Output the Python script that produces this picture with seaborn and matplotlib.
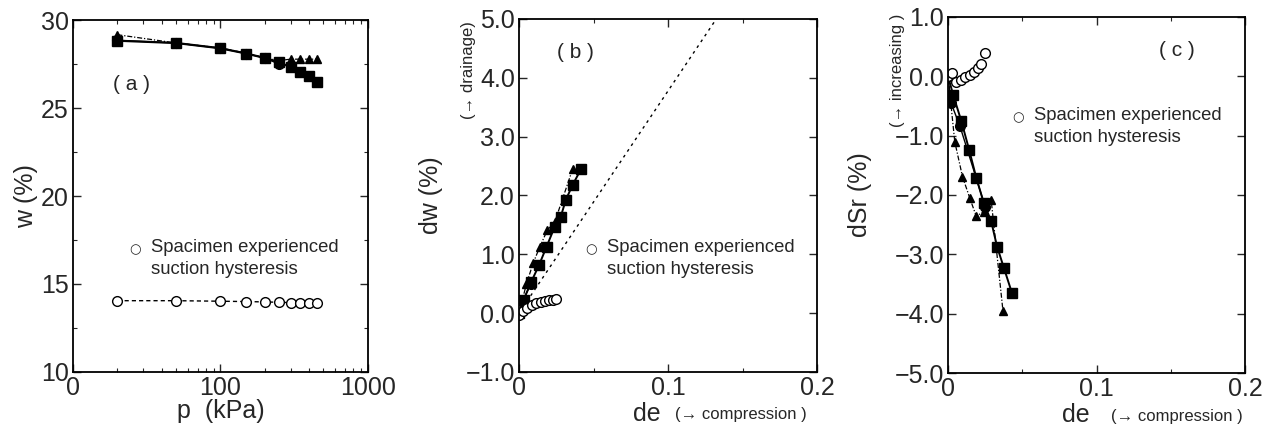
import numpy as np
import pandas as pd
import matplotlib
matplotlib.use('Agg')
import matplotlib.pyplot as plt
import seaborn as sns

# ---- panel (a): w vs p ----
p_kpa = [20, 50, 100, 150, 200, 250, 300, 350, 400, 450]
w_square = [28.83, 28.7, 28.4, 28.1, 27.85, 27.6, 27.33, 27.05, 26.8, 26.5]
w_triangle = [29.17, 28.7, 28.42, 28.12, 27.85, 27.7, 27.78, 27.78, 27.78, 27.78]
p_circle = [20, 50, 100, 150, 200, 250]
w_circle = [28.85, 28.7, 28.4, 28.1, 27.85, 27.5]
w_hyst = [14.05, 14.05, 14.02, 14.0, 13.98, 13.96, 13.94, 13.92, 13.9, 13.9]

# ---- panel (b): dw vs de ----
de_sq_b = [0.0, 0.003, 0.008, 0.0135, 0.0185, 0.024, 0.028, 0.0315, 0.036, 0.0417]
dw_sq_b = [0.0, 0.22, 0.52, 0.82, 1.13, 1.47, 1.64, 1.93, 2.18, 2.45]
de_tri_b = [0.0, 0.005, 0.0095, 0.014, 0.019, 0.024, 0.036]
dw_tri_b = [0.0, 0.5, 0.85, 1.13, 1.41, 1.55, 2.45]
de_ci_b = [0.0, 0.0027, 0.008]
dw_ci_b = [0.0, 0.22, 0.5]
de_hyst = [0.0, 0.0027, 0.0055, 0.0085, 0.0115, 0.0145, 0.0175, 0.02, 0.0225, 0.025]
dw_hyst = [-0.03, 0.03, 0.09, 0.14, 0.17, 0.19, 0.21, 0.22, 0.23, 0.24]
de_sat = [0.0, 0.2]
dw_sat = [0.0, 7.55]

# ---- panel (c): dSr vs de ----
de_sq_c = [0.0, 0.0034, 0.009, 0.0142, 0.019, 0.024, 0.029, 0.033, 0.0376, 0.043]
dsr_sq_c = [0.0, -0.31, -0.76, -1.24, -1.71, -2.13, -2.44, -2.87, -3.23, -3.65]
de_tri_c = [0.0, 0.0045, 0.0097, 0.0146, 0.019, 0.024, 0.029, 0.037]
dsr_tri_c = [0.0, -1.1, -1.69, -2.05, -2.36, -2.28, -2.08, -3.96]
de_ci_c = [0.0, 0.002, 0.008, 0.025]
dsr_ci_c = [0.0, -0.45, -0.84, -2.2]
dsr_hyst = [0.0, 0.05, -0.09, -0.06, -0.02, 0.02, 0.08, 0.14, 0.2, 0.4]

sns.set_style('ticks')
plt.rcParams['font.family'] = ['Liberation Sans', 'DejaVu Sans']

fig = plt.figure(figsize=(12.7, 4.28), dpi=100)
ax_a = fig.add_axes([0.0575, 0.131, 0.232, 0.822])
ax_b = fig.add_axes([0.4087, 0.131, 0.2346, 0.825])
ax_c = fig.add_axes([0.7465, 0.1285, 0.2339, 0.832])

dash = (0, (3, 2.2))
dashdot = (0, (4, 1.5, 1, 1.5))
k = 'black'
TICK = 18
LAB = 18
NOTE = 12


def draw(ax, x, y, marker, ls, lw=1.2, ms=7, mfc=k):
    sns.lineplot(x=x, y=y, ax=ax, sort=False, estimator=None, color=k,
                 linestyle=ls, linewidth=lw, marker=marker, markersize=ms,
                 markerfacecolor=mfc, markeredgecolor=k, markeredgewidth=1.0)


def style(ax):
    for s in ax.spines.values():
        s.set_linewidth(1.3)
        s.set_color(k)
    ax.tick_params(axis='both', which='major', direction='in', length=6,
                   width=1, labelsize=TICK, top=True, right=True, pad=3)
    ax.tick_params(axis='both', which='minor', direction='in', length=3,
                   width=0.8, top=True, right=True)


def legend_text(ax, x, y):
    # open-circle key followed by the two-line note
    ax.text(x, y, '\u25cb', transform=ax.transAxes, fontsize=9.5,
            ha='center', va='center', family=['DejaVu Sans'])
    ax.text(x + 0.055, y + 0.032, 'Spacimen experienced\nsuction hysteresis',
            transform=ax.transAxes, fontsize=13.3, ha='left', va='top',
            linespacing=1.4)


# ---- (a) ----
draw(ax_a, p_kpa, w_square, 's', '-', lw=1.6)
draw(ax_a, p_kpa, w_triangle, '^', dashdot, lw=0.9, ms=6)
draw(ax_a, p_circle, w_circle, 'o', '-', lw=1.0, ms=7)
draw(ax_a, p_kpa, w_hyst, 'o', dash, lw=1.0, ms=7, mfc='white')
ax_a.set_xscale('log')
ax_a.set_xlim(10, 1000)
ax_a.set_ylim(10, 30)
ax_a.set_xticks([10, 100, 1000])
ax_a.set_xticklabels(['0', '100', '1000'])
ax_a.set_yticks([10, 15, 20, 25, 30])
ax_a.set_yticks([12.5, 17.5, 22.5, 27.5], minor=True)
ax_a.set_xlabel('p  (kPa)', fontsize=LAB, labelpad=-1)
ax_a.set_ylabel('w (%)', fontsize=LAB, labelpad=2)
style(ax_a)
ax_a.text(0.2, 0.8, '( a )', transform=ax_a.transAxes, fontsize=15, ha='center')
legend_text(ax_a, 0.21, 0.347)

# ---- (b) ----
draw(ax_b, de_sat, dw_sat, None, (0, (2, 3)), lw=1.0)
draw(ax_b, de_sq_b, dw_sq_b, 's', '-', lw=1.4)
draw(ax_b, de_tri_b, dw_tri_b, '^', dashdot, lw=0.9, ms=6)
draw(ax_b, de_ci_b, dw_ci_b, 'o', '-', lw=1.0)
draw(ax_b, de_hyst, dw_hyst, 'o', dash, lw=0.8, ms=7, mfc='white')
ax_b.set_xlim(0, 0.2)
ax_b.set_ylim(-1.0, 5.0)
ax_b.set_xticks([0, 0.1, 0.2])
ax_b.set_xticklabels(['0', '0.1', '0.2'])
ax_b.set_xticks([0.05, 0.15], minor=True)
ax_b.set_yticks(np.arange(-1.0, 5.01, 1.0))
ax_b.set_yticklabels(['\u22121.0', '0.0', '1.0', '2.0', '3.0', '4.0', '5.0'])
style(ax_b)
ax_b.set_xlabel('')
ax_b.set_ylabel('dw (%)', fontsize=LAB, labelpad=16)
ax_b.text(0.43, -0.085, 'de', transform=ax_b.transAxes, fontsize=LAB,
          ha='center', va='top')
ax_b.text(0.745, -0.1, '(\u2192 compression )', transform=ax_b.transAxes,
          fontsize=NOTE, ha='center', va='top')
ax_b.text(-0.17, 0.855, '(\u2192 drainage)', transform=ax_b.transAxes,
          fontsize=NOTE, ha='center', va='center', rotation=90)
ax_b.text(0.19, 0.89, '( b )', transform=ax_b.transAxes, fontsize=15, ha='center')
legend_text(ax_b, 0.24, 0.345)

# ---- (c) ----
draw(ax_c, de_sq_c, dsr_sq_c, 's', '-', lw=1.4)
draw(ax_c, de_tri_c, dsr_tri_c, '^', dashdot, lw=0.9, ms=6)
draw(ax_c, de_ci_c, dsr_ci_c, 'o', '-', lw=1.0)
draw(ax_c, de_hyst, dsr_hyst, 'o', dash, lw=0.8, ms=7, mfc='white')
ax_c.set_xlim(0, 0.2)
ax_c.set_ylim(-5.0, 1.0)
ax_c.set_xticks([0, 0.1, 0.2])
ax_c.set_xticklabels(['0', '0.1', '0.2'])
ax_c.set_xticks([0.05, 0.15], minor=True)
ax_c.set_yticks(np.arange(-5.0, 1.01, 1.0))
ax_c.set_yticklabels(['\u22125.0', '\u22124.0', '\u22123.0', '\u22122.0',
                      '\u22121.0', '0.0', '1.0'])
style(ax_c)
ax_c.set_xlabel('')
ax_c.set_ylabel('dSr (%)', fontsize=LAB, labelpad=16)
ax_c.text(0.43, -0.085, 'de', transform=ax_c.transAxes, fontsize=LAB,
          ha='center', va='top')
ax_c.text(0.77, -0.1, '(\u2192 compression )', transform=ax_c.transAxes,
          fontsize=NOTE, ha='center', va='top')
ax_c.text(-0.17, 0.85, '(\u2192 increasing )', transform=ax_c.transAxes,
          fontsize=NOTE, ha='center', va='center', rotation=90)
ax_c.text(0.77, 0.89, '( c )', transform=ax_c.transAxes, fontsize=15, ha='center')
legend_text(ax_c, 0.236, 0.716)

fig.savefig('out.png', dpi=100)
